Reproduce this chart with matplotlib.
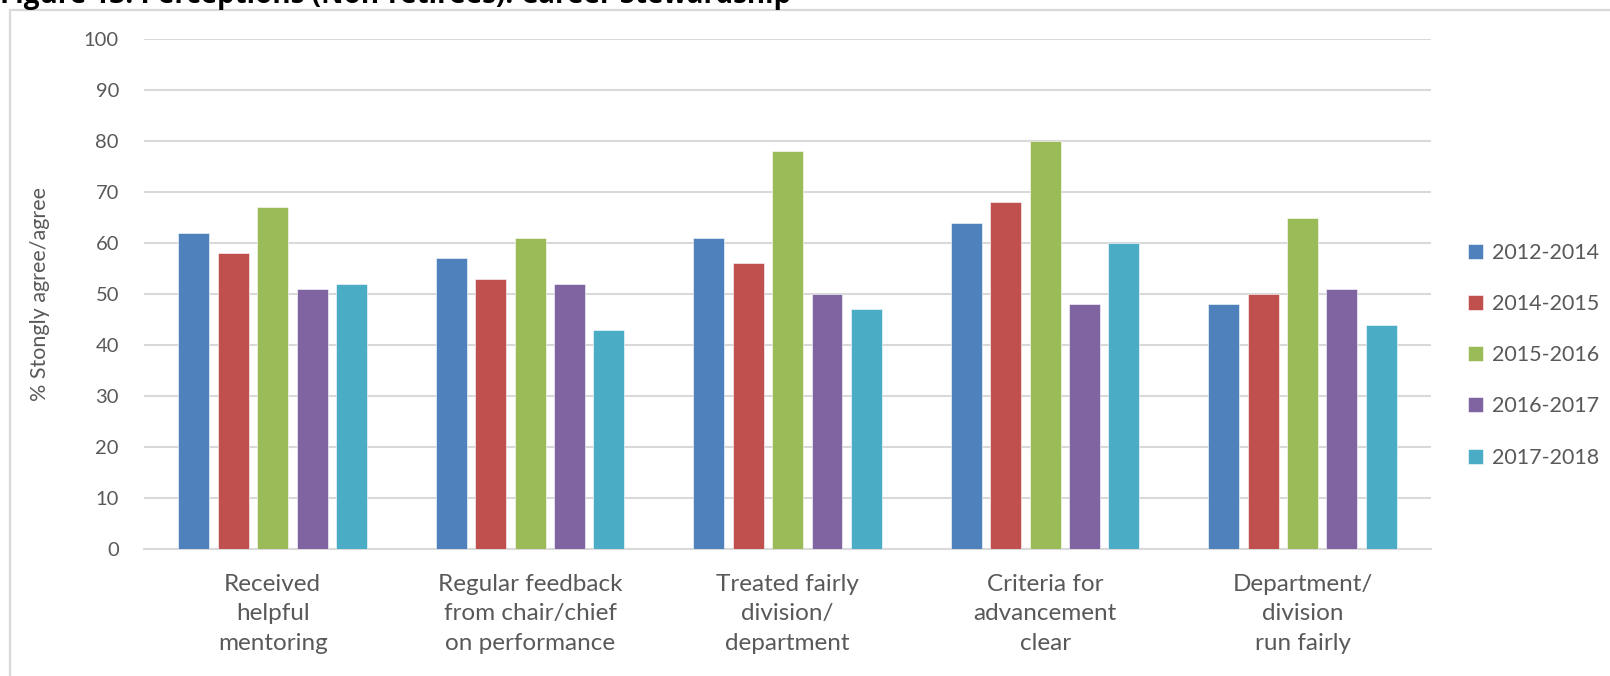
import matplotlib.pyplot as plt
import numpy as np
from matplotlib.patches import Rectangle

# Survey results: share answering strongly agree / agree, by survey period
categories = [
    "Received\nhelpful\nmentoring",
    "Regular feedback\nfrom chair/chief\non performance",
    "Treated fairly\ndivision/\ndepartment",
    "Criteria for\nadvancement\nclear",
    "Department/\ndivision\nrun fairly",
]
periods = ["2012-2014", "2014-2015", "2015-2016", "2016-2017", "2017-2018"]
values_2012_2014 = [62, 57, 61, 64, 48]
values_2014_2015 = [58, 53, 56, 68, 50]
values_2015_2016 = [67, 61, 78, 80, 65]
values_2016_2017 = [51, 52, 50, 48, 51]
values_2017_2018 = [52, 43, 47, 60, 44]

series = [values_2012_2014, values_2014_2015, values_2015_2016,
          values_2016_2017, values_2017_2018]
colors = ["#4F81BD", "#C0504D", "#9BBB59", "#8064A2", "#4BACC6"]

plt.rcParams['font.family'] = ['Lato', 'DejaVu Sans']
text_color = "#595959"
grid_color = "#D9D9D9"

fig = plt.figure(figsize=(16.1, 6.76), dpi=100)
ax = fig.add_axes([0.0894, 0.188, 0.7996, 0.754])

# outer frame, open to the right and bottom
fig.patches.append(Rectangle((10 / 1610, -0.1), 2.0, 1 - 10 / 676 + 0.1,
                             transform=fig.transFigure, fill=False,
                             edgecolor=grid_color, linewidth=1.6))

fig.text(0.0, 1 - 3 / 676, "Figure 13: Perceptions (Non-retirees): Career Stewardship",
         fontsize=20, fontweight='bold', color='black', va='baseline', ha='left',
         family=['Open Sans', 'DejaVu Sans'])

x = np.arange(len(categories))
slot = 0.153
bar_w = 0.12
for i, (vals, col, lab) in enumerate(zip(series, colors, periods)):
    ax.bar(x + (i - 2) * slot, vals, width=bar_w, color=col, label=lab,
           edgecolor='white', linewidth=0.4, zorder=3)

ax.set_xlim(-0.5, len(categories) - 0.5)
ax.set_ylim(0, 100)
ax.set_yticks(range(0, 101, 10))
ax.yaxis.grid(True, color=grid_color, linewidth=1.5, zorder=0)
ax.set_axisbelow(True)

for side in ['left', 'right', 'top']:
    ax.spines[side].set_visible(False)
ax.spines['bottom'].set_color(grid_color)
ax.spines['bottom'].set_linewidth(1.5)

ax.set_xticks(x)
ax.set_xticklabels(categories, fontsize=17.5, color=text_color, linespacing=1.5)
ax.tick_params(axis='x', length=0, pad=18)
ax.tick_params(axis='y', length=0, pad=18, labelsize=14.5, labelcolor=text_color)

ax.set_ylabel("% Stongly agree/agree", fontsize=15.5, color=text_color, labelpad=24)

leg = ax.legend(loc='center left', bbox_to_anchor=(1.0, 0.38), frameon=False,
                fontsize=15.5, labelcolor=text_color, handlelength=0.7,
                handleheight=0.7, handletextpad=0.4, labelspacing=1.45,
                borderaxespad=1.3)

fig.savefig("out.png", dpi=100)
